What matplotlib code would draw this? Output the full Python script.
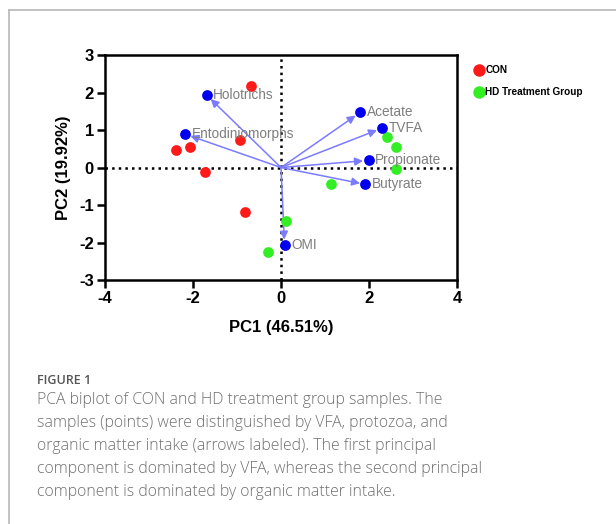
import numpy as np
import matplotlib.pyplot as plt
from matplotlib.lines import Line2D

plt.rcParams['axes.unicode_minus'] = False

# sample scores (PC1, PC2)
con_x = [-0.69, -0.93, -2.38, -2.08, -1.73, -0.83]
con_y = [2.17, 0.73, 0.47, 0.55, -0.13, -1.18]
hd_x = [2.42, 2.61, 2.61, 1.13, 0.11, -0.29]
hd_y = [0.81, 0.54, -0.05, -0.43, -1.43, -2.25]

# variable loadings (arrow tips)
var_names = ['Holotrichs', 'Entodiniomorphs', 'Acetate', 'TVFA', 'Propionate', 'Butyrate', 'OMI']
var_x = [-1.69, -2.18, 1.80, 2.30, 1.99, 1.92, 0.08]
var_y = [1.93, 0.89, 1.47, 1.05, 0.19, -0.45, -2.07]

fig = plt.figure(figsize=(6.16, 5.24), dpi=100)
ax = fig.add_axes([0.1705, 0.4656, 0.5714, 0.4294])

ax.axhline(0, color='black', linestyle=':', lw=1.8, zorder=1)
ax.axvline(0, color='black', linestyle=':', lw=1.8, zorder=1)

for name, vx, vy in zip(var_names, var_x, var_y):
    ax.annotate('', xy=(vx, vy), xytext=(0, 0),
                arrowprops=dict(arrowstyle='-|>', color='#7b7bff', lw=1.1,
                                shrinkA=0, shrinkB=4, mutation_scale=12), zorder=2)

ax.scatter(con_x, con_y, s=60, color='#ff1a1a', zorder=3, linewidths=0)
ax.scatter(hd_x, hd_y, s=60, color='#33ee22', zorder=3, linewidths=0)
ax.scatter(var_x, var_y, s=60, color='#0000ee', zorder=4, linewidths=0)

for name, vx, vy in zip(var_names, var_x, var_y):
    ax.text(vx + 0.15, vy, name, color='#7f7f7f', fontsize=9.8,
            family='Liberation Sans', va='center', ha='left', zorder=5)

ax.set_xlim(-4, 4)
ax.set_ylim(-3, 3)
ax.set_xticks([-4, -2, 0, 2, 4])
ax.set_yticks([-3, -2, -1, 0, 1, 2, 3])
for s in ax.spines.values():
    s.set_linewidth(1.8)
ax.tick_params(direction='out', length=6, width=1.8, pad=2)
for lab in ax.get_xticklabels() + ax.get_yticklabels():
    lab.set_fontweight('bold')
    lab.set_fontsize(12)
    lab.set_family('Liberation Sans')

ax.set_xlabel('PC1 (46.51%)', fontsize=12, fontweight='bold', family='Liberation Sans', labelpad=10)
ax.set_ylabel('PC2 (19.92%)', fontsize=12, fontweight='bold', family='Liberation Sans', labelpad=6)

handles = [Line2D([], [], marker='o', ls='', color='#ff1a1a', markersize=9, markeredgewidth=0),
           Line2D([], [], marker='o', ls='', color='#33ee22', markersize=9, markeredgewidth=0)]
leg = fig.legend(handles, ['CON', 'HD Treatment Group'], loc='upper left',
                 bbox_to_anchor=(0.762, 0.885), frameon=False, handletextpad=0.1,
                 handlelength=1.0, labelspacing=1.2, borderpad=0,
                 prop={'family': 'Liberation Sans', 'weight': 'bold', 'size': 7.2})

# figure frame (top and left)
fig.add_artist(Line2D([9 / 616, 1], [1 - 10 / 524, 1 - 10 / 524], color='#b8b8b8', lw=1.2))
fig.add_artist(Line2D([9 / 616, 9 / 616], [0, 1 - 10 / 524], color='#b8b8b8', lw=1.2))

fig.text(37 / 616, 1 - 383.5 / 524, 'FIGURE 1', fontsize=9, color='#555555',
         family='Open Sans', fontweight='semibold', va='baseline')
caption = ('PCA biplot of CON and HD treatment group samples. The\n'
           'samples (points) were distinguished by VFA, protozoa, and\n'
           'organic matter intake (arrows labeled). The first principal\n'
           'component is dominated by VFA, whereas the second principal\n'
           'component is dominated by organic matter intake.')
fig.text(37 / 616, 1 - 392 / 524, caption, fontsize=11.4, color='#707070',
         family='Open Sans', fontweight='light', va='top', ha='left',
         linespacing=1.58, multialignment='left')

fig.savefig('out.png', dpi=100)
